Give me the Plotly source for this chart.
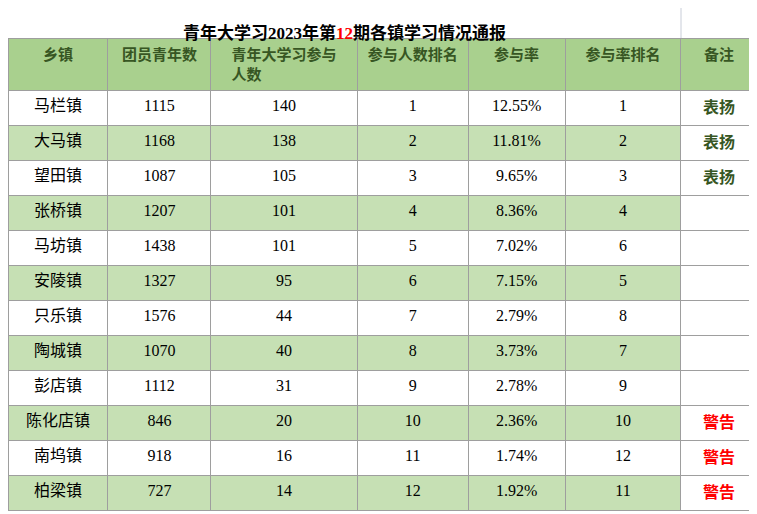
import plotly.graph_objects as go

towns = ['马栏镇', '大马镇', '望田镇', '张桥镇', '马坊镇', '安陵镇', '只乐镇', '陶城镇',
         '彭店镇', '陈化店镇', '南坞镇', '柏梁镇']
members = [1115, 1168, 1087, 1207, 1438, 1327, 1576, 1070, 1112, 846, 918, 727]
participants = [140, 138, 105, 101, 101, 95, 44, 40, 31, 20, 16, 14]
count_rank = [1, 2, 3, 4, 5, 6, 7, 8, 9, 10, 11, 12]
rates = ['12.55%', '11.81%', '9.65%', '8.36%', '7.02%', '7.15%', '2.79%', '3.73%',
         '2.78%', '2.36%', '1.74%', '1.92%']
rate_rank = [1, 2, 3, 4, 6, 5, 8, 7, 9, 10, 12, 11]
notes = ['表扬', '表扬', '表扬', '', '', '', '', '', '', '警告', '警告', '警告']
headers = ['乡镇', '团员青年数', '青年大学习参与<br>人数', '参与人数排名', '参与率', '参与率排名', '备注']

# page has an 8px body margin, so keep the figure a bit smaller than the window
W, H = 749, 506
FONT = 'Liberation Serif, Noto Sans CJK SC'

row_fill = ['white' if i % 2 == 0 else '#c6e0b4' for i in range(len(towns))]
note_fill = ['white'] * len(towns)
fills = [row_fill] * 6 + [note_fill]
note_colors = ['#375623' if n == '表扬' else '#ff0000' for n in notes]
font_colors = [['black'] * len(towns)] * 6 + [note_colors]
note_text = ['<b>%s</b>' % n if n else '' for n in notes]

fig = go.Figure(go.Table(
    columnwidth=[101, 104, 148, 112, 98, 117, 77],
    domain=dict(x=[0, 1], y=[0, 1 - 30 / H]),
    header=dict(values=['<b>%s</b>' % h for h in headers], fill_color='#a9d08e',
                line_color='#9e9e9e', height=40, align='center',
                font=dict(family=FONT, size=15, color='#375623')),
    cells=dict(values=[towns, members, participants, count_rank, rates, rate_rank, note_text],
               fill_color=fills, line_color='#9e9e9e', height=35, align='center',
               font=dict(family=FONT, size=16, color=font_colors)),
))

fig.add_annotation(x=336 / W, y=1 - 13 / H, xref='paper', yref='paper', showarrow=False,
                   text="<b>青年大学习2023年第<span style='color:red'>12</span>期各镇学习情况通报</b>",
                   font=dict(family=FONT, size=17, color='black'))
fig.add_shape(type='line', xref='paper', yref='paper', x0=673 / W, x1=673 / W,
              y0=1 - 30 / H, y1=1, line=dict(color='#c8cdd8', width=1))

fig.update_layout(width=W, height=H, margin=dict(l=0, r=0, t=0, b=0),
                  paper_bgcolor='white', plot_bgcolor='white')
fig.write_html('out.html')
